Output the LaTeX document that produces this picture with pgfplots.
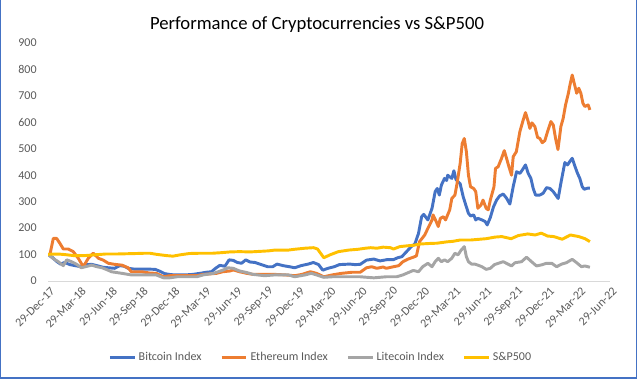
\documentclass[border=0pt]{standalone}
\usepackage{fontspec}
\setmainfont{Carlito}
\usepackage{pgfplots}
\pgfplotsset{compat=1.18}
\definecolor{cbtc}{HTML}{4472C4}
\definecolor{ceth}{HTML}{ED7D31}
\definecolor{cltc}{HTML}{A5A5A5}
\definecolor{csp}{HTML}{FFC000}
\definecolor{ctick}{HTML}{595959}
\definecolor{caxis}{HTML}{D9D9D9}
\definecolor{cframe}{HTML}{4472C4}
\begin{document}
\begin{tikzpicture}
\path[use as bounding box] (0,0) rectangle (478.5pt,284.25pt);
\draw[cframe, line width=1.1pt] (0.55pt,284.25pt) -- (0.55pt,0.9pt) -- (477.3pt,0.9pt) -- (477.3pt,284.25pt);
\node[font=\fontsize{14}{16.8}\selectfont, text=black] at (237.75pt,266pt) {Performance of Cryptocurrencies vs S\&P500};
\begin{axis}[
  at={(36pt,73.5pt)}, anchor=south west,
  scale only axis, width=421.5pt, height=178.5pt,
  xmin=0, xmax=54, ymin=0, ymax=900,
  axis x line*=bottom, axis y line*=left,
  x axis line style={draw=caxis, line width=0.75pt},
  y axis line style={draw=none},
  tick style={draw=none}, major tick length=0pt,
  xtick={0,3,...,54},
  xticklabels={29-Dec-17,29-Mar-18,29-Jun-18,29-Sep-18,29-Dec-18,29-Mar-19,29-Jun-19,29-Sep-19,29-Dec-19,29-Mar-20,29-Jun-20,29-Sep-20,29-Dec-20,29-Mar-21,29-Jun-21,29-Sep-21,29-Dec-21,29-Mar-22,29-Jun-22},
  ytick={0,100,...,900},
  /pgf/number format/assume math mode=true,
  ticklabel style={font=\fontsize{9}{10.8}\selectfont, text=ctick},
  yticklabel style={xshift=-5pt},
  xticklabel style={rotate=45, anchor=east, yshift=-7pt, xshift=1.5pt},
  legend columns=4,
  legend style={draw=none, fill=none, at={(0.486,-0.322)}, anchor=center,
    font=\fontsize{9}{10.8}\selectfont, text=ctick,
    /tikz/every even column/.append style={column sep=12pt}},
  legend image code/.code={\draw[#1, line width=2.2pt] (0pt,0pt) -- (18.5pt,0pt);},
  every axis plot/.append style={line width=2.2pt, line join=round, no markers},
]
\addplot[cbtc] coordinates {
(0,100)(0.4,90)(0.8,75)(1.2,64)(1.6,70)(2.1,62)(2.6,58)(3.2,54)(3.7,62)(4.2,63)(4.7,58)(5.3,52)(5.8,50)(6.4,48)(6.9,58)(7.3,56)(7.7,48)(8.3,45)(9.0,45)(9.6,45)(10.3,44)(10.8,36)(11.2,28)(11.8,24)(12.5,23)(13.2,23)(13.9,25)(14.6,29)(15.2,33)(15.7,35)(16.1,48)(16.5,59)(17.0,56)(17.4,80)(17.8,78)(18.2,70)(18.6,67)(19.0,80)(19.4,72)(19.9,70)(20.5,62)(21.1,54)(21.6,54)(22.0,64)(22.6,58)(23.2,54)(23.7,50)(24.3,58)(25.0,64)(25.5,70)(26.0,62)(26.4,41)(26.9,48)(27.5,54)(28.0,62)(29.0,64)(29.5,62)(30.0,63)(30.6,79)(31.3,83)(31.9,76)(32.6,81)(33.2,81)(33.6,88)(34.0,92)(34.45,111)(34.9,130)(35.25,140)(35.6,180)(35.9,243)(36.1,252)(36.5,231)(36.9,275)(37.2,338)(37.4,350)(37.6,325)(37.8,363)(38.1,388)(38.3,380)(38.4,400)(38.8,388)(39.0,417)(39.2,384)(39.4,375)(39.6,368)(39.9,318)(40.2,280)(40.4,256)(40.6,246)(40.9,250)(41.1,231)(41.3,237)(41.7,231)(42.0,225)(42.2,212)(42.5,240)(42.8,280)(43.1,306)(43.4,322)(43.74,329)(44.06,313)(44.38,291)(44.7,357)(45.02,413)(45.34,407)(45.56,419)(45.88,439)(46.14,407)(46.4,388)(46.62,350)(46.85,325)(47.26,325)(47.58,332)(47.9,353)(48.23,350)(48.55,338)(49.02,312)(49.28,370)(49.66,448)(49.92,439)(50.14,452)(50.37,464)(50.62,435)(50.88,407)(51.1,388)(51.33,357)(51.52,347)(51.84,351)(52.07,351)
};
\addlegendentry{Bitcoin Index}
\addplot[ceth] coordinates {
(0,100)(0.19,101)(0.51,161)(0.83,161)(1.15,142)(1.47,121)(1.95,121)(2.43,111)(2.91,86)(3.39,54)(3.87,86)(4.35,105)(4.84,86)(5.3,79)(5.8,67)(6.4,63)(7.1,60)(7.7,50)(8.0,35)(9.0,35)(9.8,30)(10.4,29)(11.1,16)(11.7,20)(12.5,20)(13.6,20)(14.3,20)(14.9,25)(15.6,27)(16.2,29)(16.8,35)(17.5,38)(17.8,42)(18.4,35)(19.1,29)(19.7,25)(20.4,25)(21.8,25)(22.8,23)(23.7,20)(24.4,25)(25.2,35)(25.8,29)(26.5,16)(27.3,23)(28.2,29)(29.2,33)(30.0,33)(30.6,50)(31.1,54)(31.6,48)(32.2,53)(32.5,48)(33.2,54)(33.7,58)(34.1,73)(34.6,83)(35.1,90)(35.4,95)(35.7,149)(36.2,174)(36.5,199)(36.9,231)(37.0,250)(37.3,225)(37.5,206)(37.7,237)(38.0,243)(38.2,231)(38.6,269)(38.8,312)(39.1,325)(39.3,368)(39.6,444)(39.8,520)(40.0,539)(40.2,489)(40.4,400)(40.6,356)(40.9,350)(41.1,338)(41.3,275)(41.6,287)(41.8,306)(42.1,275)(42.3,269)(42.5,306)(42.85,356)(43.0,426)(43.25,432)(43.58,464)(43.84,493)(44.06,464)(44.29,432)(44.54,400)(44.7,470)(45.0,489)(45.34,565)(45.66,609)(45.88,637)(46.14,603)(46.3,577)(46.5,598)(46.78,584)(47.04,543)(47.26,539)(47.49,523)(47.74,531)(48.0,565)(48.32,603)(48.55,590)(48.77,539)(49.0,497)(49.28,584)(49.5,615)(49.73,666)(50.0,710)(50.15,741)(50.37,779)(50.56,748)(50.8,710)(51.0,729)(51.2,710)(51.4,672)(51.58,660)(51.9,666)(52.07,647)
};
\addlegendentry{Ethereum Index}
\addplot[cltc] coordinates {
(0,100)(0.5,85)(0.99,73)(1.47,58)(1.8,80)(2.27,73)(2.8,62)(3.2,50)(3.7,55)(4.2,60)(4.7,54)(5.2,50)(5.7,42)(6.1,35)(7.1,29)(8.0,23)(9.0,23)(9.8,23)(10.4,23)(11.1,12)(11.7,12)(12.4,16)(13.3,16)(14.3,16)(14.9,23)(15.9,29)(16.8,41)(17.3,50)(17.8,48)(18.4,38)(19.1,32)(19.7,25)(20.8,20)(21.8,23)(23.1,23)(23.7,16)(24.7,23)(25.3,29)(25.8,23)(26.5,14)(27.3,16)(28.5,16)(30.0,16)(31.3,12)(32.5,16)(33.5,16)(34.1,23)(34.45,29)(35.1,40)(35.6,35)(36.0,54)(36.5,67)(36.9,54)(37.2,73)(37.5,86)(37.8,73)(38.1,80)(38.4,73)(38.8,86)(39.1,105)(39.4,99)(39.7,117)(40.0,130)(40.2,92)(40.4,73)(40.7,64)(41.0,64)(41.3,60)(41.7,54)(42.1,44)(42.5,48)(42.9,62)(43.5,70)(43.74,73)(44.54,57)(44.86,69)(45.5,73)(45.98,90)(46.46,73)(46.94,57)(47.42,61)(47.9,67)(48.4,67)(48.87,54)(49.35,64)(49.8,69)(50.37,82)(50.8,69)(51.26,54)(51.58,57)(52.07,52)
};
\addlegendentry{Litecoin Index}
\addplot[csp] coordinates {
(0,101)(1.0,102)(1.6,100)(2.5,96)(3.5,96)(4.5,99)(5.5,102)(6.5,102)(7.5,103)(8.5,104)(9.3,105)(9.8,105)(10.4,101)(11.4,96)(12.0,94)(12.7,99)(13.6,104)(14.6,105)(15.8,105)(16.6,107)(17.5,110)(18.4,111)(19.4,110)(19.9,111)(21.2,114)(21.8,117)(23.1,117)(23.7,120)(24.7,124)(25.5,126)(25.9,121)(26.5,88)(27.1,99)(27.9,111)(28.9,117)(29.8,120)(30.5,124)(31.0,126)(31.6,124)(32.2,128)(32.9,126)(33.2,121)(33.8,130)(34.5,133)(35.1,135)(35.8,140)(36.7,142)(37.4,143)(38.3,148)(38.9,150)(39.6,155)(40.6,155)(41.5,158)(42.1,160)(42.94,166)(43.6,168)(44.5,160)(45.2,172)(46.1,178)(46.8,174)(47.4,181)(48.0,170)(48.6,168)(49.4,158)(50.2,174)(51.0,168)(51.6,160)(52.07,149)
};
\addlegendentry{S\&P500}
\end{axis}
\end{tikzpicture}
\end{document}
